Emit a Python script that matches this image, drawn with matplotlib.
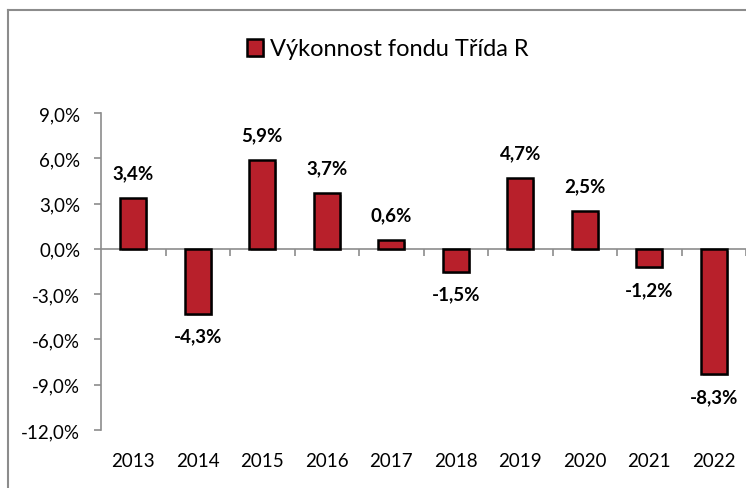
import matplotlib
matplotlib.use("Agg")
import matplotlib.pyplot as plt
from matplotlib.lines import Line2D
from matplotlib.ticker import FixedLocator, FuncFormatter
import matplotlib.patheffects as pe

years = ["2013", "2014", "2015", "2016", "2017", "2018", "2019", "2020", "2021", "2022"]
values = [3.4, -4.3, 5.9, 3.7, 0.6, -1.5, 4.7, 2.5, -1.2, -8.3]
yticks = [-12, -9, -6, -3, 0, 3, 6, 9]
series_name = "Výkonnost fondu Třída R"

plt.rcParams['font.family'] = ['Lato', 'DejaVu Sans']

W, H = 746, 489
fig = plt.figure(figsize=(W / 100, H / 100), dpi=100)
ax = fig.add_axes([101 / W, 1 - 431 / H, 645 / W, (431 - 114) / H])

x = list(range(len(years)))
bars = ax.bar(x, values, width=0.4, color="#B8202B", edgecolor="black", linewidth=1.8,
              label=series_name, zorder=3)
for b in bars:
    b.set_path_effects([pe.SimplePatchShadow(offset=(1.5, -1.5), alpha=0.35), pe.Normal()])

ax.set_xlim(-0.5, len(years) - 0.5)
ax.set_ylim(-12, 9)

for xi, v in zip(x, values):
    lab = f"{v:.1f}%".replace(".", ",")
    if v >= 0:
        ax.annotate(lab, (xi, v), xytext=(0, 12), textcoords="offset points",
                    ha="center", va="bottom", fontsize=13.5, fontweight="bold")
    else:
        ax.annotate(lab, (xi, v), xytext=(0, -10), textcoords="offset points",
                    ha="center", va="top", fontsize=13.5, fontweight="bold")

# axes styling
for s in ["top", "right"]:
    ax.spines[s].set_visible(False)
ax.spines["left"].set_color("#8c8c8c")
ax.spines["left"].set_linewidth(1.2)
ax.spines["bottom"].set_position(("data", 0))
ax.spines["bottom"].set_color("#8c8c8c")
ax.spines["bottom"].set_linewidth(1.2)
ax.spines["bottom"].set_zorder(2)

ax.yaxis.set_major_locator(FixedLocator(yticks))
ax.yaxis.set_major_formatter(FuncFormatter(lambda v, p: f"{v:.1f}%".replace(".", ",")))
ax.tick_params(axis="y", direction="out", length=5, width=1.2, color="#8c8c8c",
               labelsize=13.5, pad=10)

bounds = [i + 0.5 for i in range(len(years) - 1)] + [len(years) - 0.5]
ax.xaxis.set_major_locator(FixedLocator(bounds))
ax.xaxis.set_major_formatter(FuncFormatter(lambda v, p: ""))
ax.tick_params(axis="x", direction="out", length=5, width=1.2, color="#8c8c8c")

sec = ax.secondary_xaxis("bottom")
sec.set_xticks(x)
sec.set_xticklabels(years)
sec.tick_params(axis="x", length=0, labelsize=13.5, pad=16)
sec.spines["bottom"].set_visible(False)

fig.legend(handles=[bars], labels=[series_name], loc="center",
           bbox_to_anchor=(388 / W, 1 - 50 / H), frameon=False, fontsize=17,
           handlelength=0.7, handleheight=0.7, handletextpad=0.3)

# outer chart border
fig.add_artist(Line2D([8 / W, 8 / W], [0, 1 - 11 / H], color="#8c8c8c", linewidth=1.5,
                      transform=fig.transFigure))
fig.add_artist(Line2D([8 / W, 1], [1 - 11 / H, 1 - 11 / H], color="#8c8c8c", linewidth=1.5,
                      transform=fig.transFigure))

fig.savefig("out.png", dpi=100)
